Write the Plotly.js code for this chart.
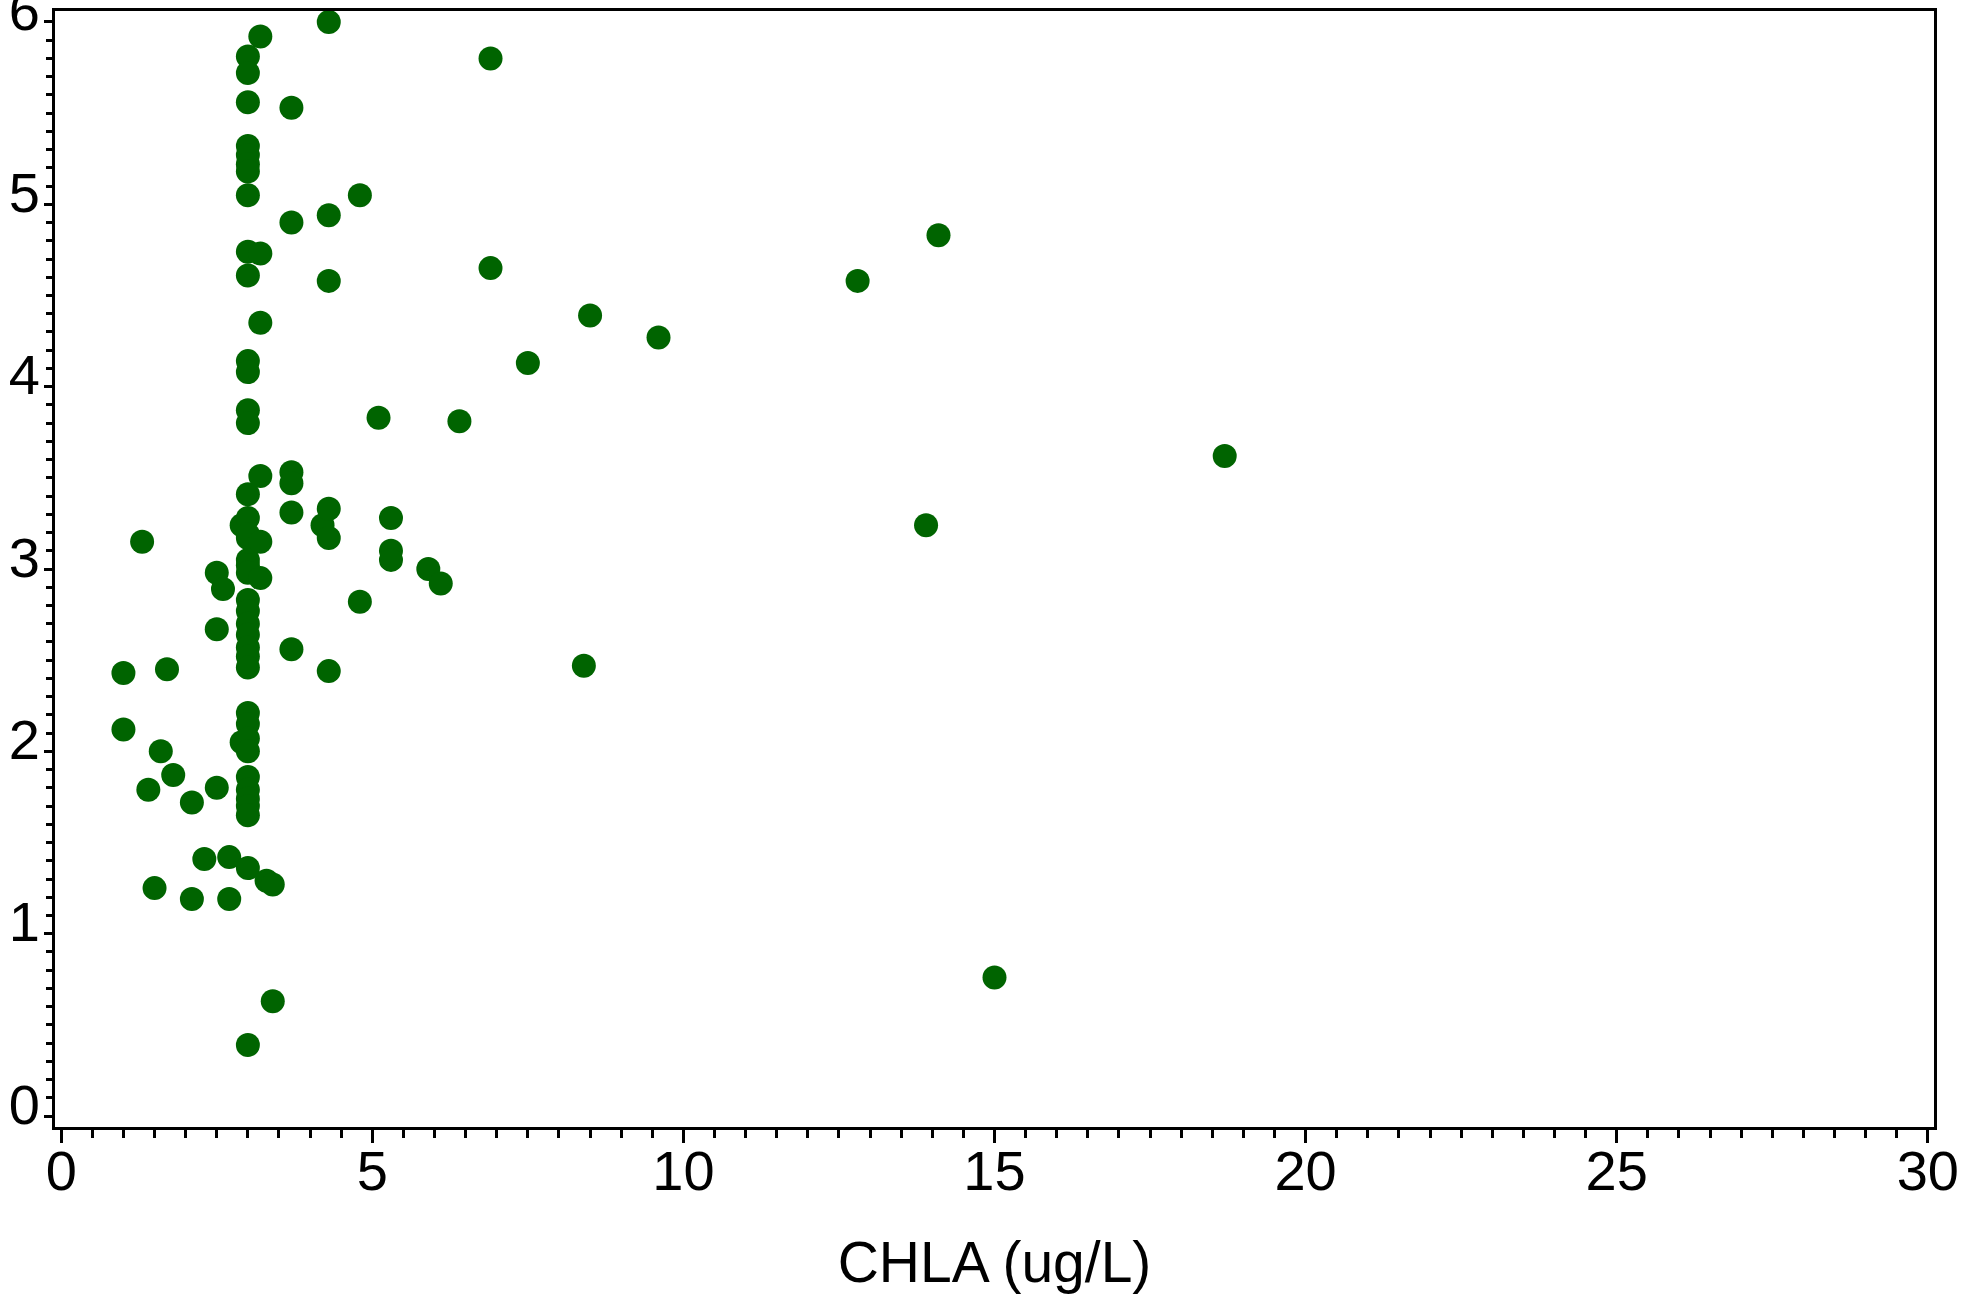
<!DOCTYPE html>
<html>
<head>
<meta charset="utf-8">
<script src="https://cdn.plot.ly/plotly-3.0.1.min.js"></script>
<style>
  html, body { margin: 0; padding: 0; background: #ffffff; }
  #chart { width: 1986px; height: 1294px; }
</style>
</head>
<body>
<div id="chart"></div>
<script>
// CHLA (ug/L) values (x) and the paired response values (y)
const chla = [
  1.0, 1.0,
  1.3,
  1.4,
  1.5,
  1.6,
  1.7,
  1.8,
  2.1, 2.1,
  2.3,
  2.5, 2.5, 2.5,
  2.6,
  2.7, 2.7,
  2.9, 2.9,
  3.0, 3.0, 3.0, 3.0, 3.0, 3.0, 3.0, 3.0, 3.0, 3.0,
  3.0, 3.0, 3.0, 3.0, 3.0, 3.0, 3.0, 3.0, 3.0, 3.0,
  3.0, 3.0, 3.0, 3.0, 3.0, 3.0, 3.0, 3.0, 3.0, 3.0,
  3.0, 3.0, 3.0, 3.0, 3.0, 3.0, 3.0, 3.0, 3.0,
  3.2, 3.2, 3.2, 3.2, 3.2, 3.2,
  3.3,
  3.4, 3.4,
  3.7, 3.7, 3.7, 3.7, 3.7, 3.7,
  4.2,
  4.3, 4.3, 4.3, 4.3, 4.3, 4.3,
  4.8, 4.8,
  5.1,
  5.3, 5.3, 5.3,
  5.9,
  6.1,
  6.4,
  6.9, 6.9,
  7.5,
  8.4,
  8.5,
  9.6,
  12.8,
  13.9,
  14.1,
  15.0,
  18.7
];
const response = [
  2.43, 2.12,
  3.15,
  1.79,
  1.25,
  2.00,
  2.45,
  1.87,
  1.72, 1.19,
  1.41,
  2.98, 2.67, 1.80,
  2.89,
  1.42, 1.19,
  3.24, 2.05,
  5.81, 5.72, 5.56, 5.32, 5.27, 5.22, 5.18, 5.05, 4.74, 4.61,
  4.14, 4.08, 3.87, 3.80, 3.41, 3.28, 3.17, 3.05, 3.02, 2.98,
  2.83, 2.77, 2.70, 2.64, 2.57, 2.52, 2.46, 2.21, 2.15, 2.07,
  2.00, 1.86, 1.79, 1.74, 1.70, 1.65, 1.36, 0.39, 3.19,
  5.92, 4.73, 4.35, 3.51, 3.15, 2.95,
  1.29,
  1.27, 0.63,
  5.53, 4.90, 3.53, 3.47, 3.31, 2.56,
  3.24,
  6.00, 4.94, 4.58, 3.33, 3.17, 2.44,
  5.05, 2.82,
  3.83,
  3.28, 3.10, 3.05,
  3.00,
  2.92,
  3.81,
  5.80, 4.65,
  4.13,
  2.47,
  4.39,
  4.27,
  4.58,
  3.24,
  4.83,
  0.76,
  3.62
];
const xTickVals = [0, 5, 10, 15, 20, 25, 30];
const yTickVals = [0, 1, 2, 3, 4, 5, 6];
const xTitle = 'CHLA (ug/L)';

const fontFamily = 'Liberation Sans, Arial, Helvetica, sans-serif';

const trace = {
  type: 'scatter',
  mode: 'markers',
  x: chla,
  y: response,
  marker: { color: '#006400', size: 24, line: { width: 0 } },
  hoverinfo: 'x+y',
  showlegend: false
};

const layout = {
  width: 1986,
  height: 1294,
  margin: { l: 55, r: 52, t: 11, b: 167, pad: 0 },
  paper_bgcolor: '#ffffff',
  plot_bgcolor: '#ffffff',
  font: { family: fontFamily, size: 56, color: '#000000' },
  xaxis: {
    range: [-0.1, 30.1],
    tickmode: 'array',
    tickvals: xTickVals,
    ticktext: xTickVals.map(String),
    ticks: 'outside',
    ticklen: 13,
    tickwidth: 3,
    tickcolor: '#000000',
    minor: { ticks: 'outside', dtick: 0.5, tick0: 0, ticklen: 8, tickwidth: 3, tickcolor: '#000000', showgrid: false },
    showline: true,
    linecolor: '#000000',
    linewidth: 3,
    mirror: true,
    showgrid: false,
    zeroline: false,
    ticklabelstandoff: -20,
    ticklabeloverflow: 'allow',
    tickfont: { family: fontFamily, size: 56, color: '#000000' },
    title: { text: xTitle, font: { family: fontFamily, size: 57, color: '#000000' }, standoff: 48 }
  },
  yaxis: {
    range: [-0.06, 6.06],
    tickmode: 'array',
    tickvals: yTickVals,
    ticktext: yTickVals.map(String),
    ticks: 'outside',
    ticklen: 8,
    tickwidth: 3,
    tickcolor: '#000000',
    minor: { ticks: 'outside', dtick: 0.1, tick0: 0, ticklen: 6, tickwidth: 3, tickcolor: '#000000', showgrid: false },
    showline: true,
    linecolor: '#000000',
    linewidth: 3,
    mirror: true,
    showgrid: false,
    zeroline: false,
    ticklabelstandoff: -7,
    ticklabelshift: -12,
    ticklabeloverflow: 'allow',
    tickfont: { family: fontFamily, size: 56, color: '#000000' }
  }
};

Plotly.newPlot('chart', [trace], layout, { displayModeBar: false, staticPlot: true });
</script>
</body>
</html>
